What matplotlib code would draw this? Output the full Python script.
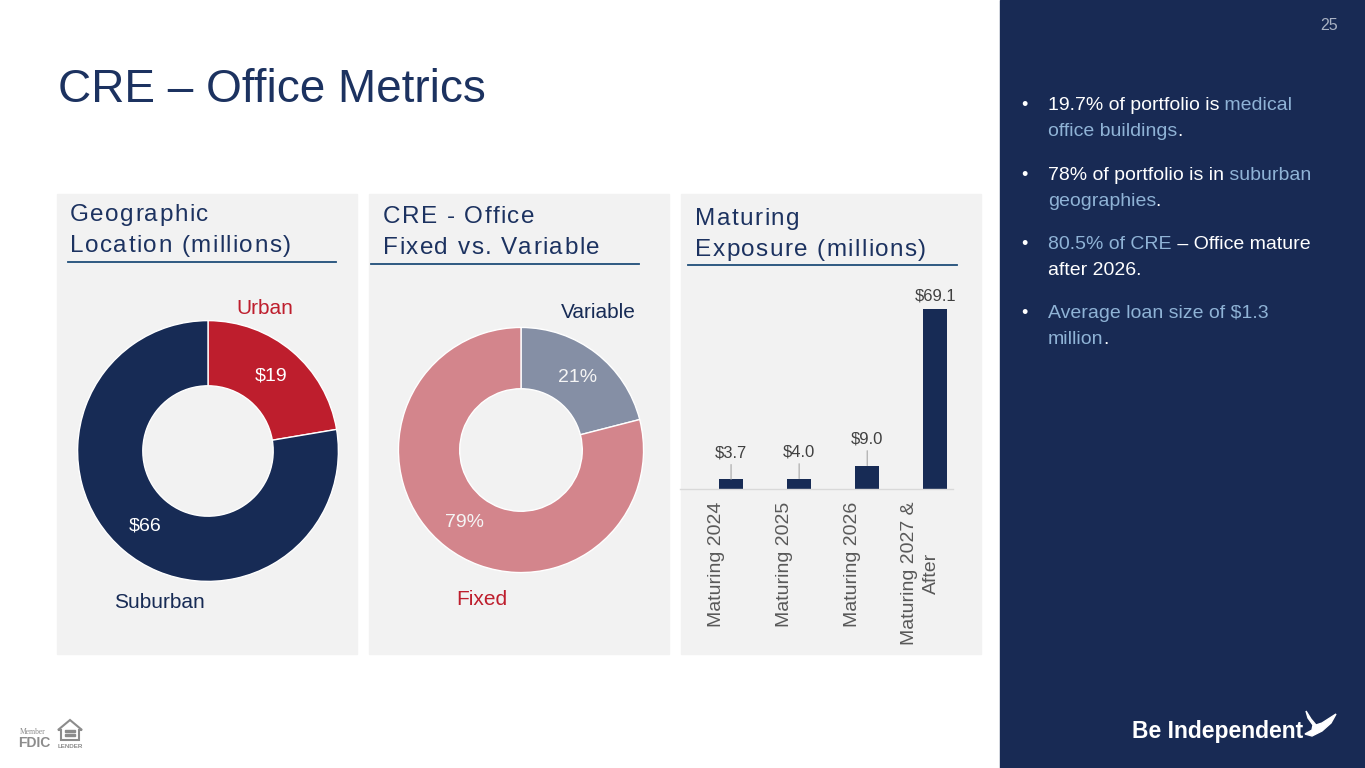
import matplotlib
matplotlib.use("Agg")
import numpy as np
import matplotlib.pyplot as plt
from matplotlib.patches import Rectangle, Polygon
from matplotlib.transforms import ScaledTranslation
from matplotlib.font_manager import FontProperties, findfont, get_font

# ---------------------------
# Data
# ---------------------------
geo_labels = ["Urban", "Suburban"]
geo_values = [19, 66]

rate_labels = ["Variable", "Fixed"]
rate_values = [21, 79]

mat_labels = ["Maturing 2024", "Maturing 2025", "Maturing 2026", "Maturing 2027 &\nAfter"]
mat_values = [3.7, 4.0, 9.0, 69.1]

# ---------------------------
# Colours
# ---------------------------
NAVY = "#172B55"
TITLE = "#1C3260"
RED = "#BE1E2D"
PINK = "#D3858C"
SLATE = "#858FA5"
PANEL = "#F2F2F2"
SIDE = "#182A54"
WHITE = "#FFFFFF"
LBLUE = "#8FB3D6"
GRAY_TXT = "#595959"

bullets = [
    [[("19.7% of portfolio is", WHITE), (" medical", LBLUE)],
     [("office buildings", LBLUE), (".", WHITE)]],
    [[("78% of portfolio is in", WHITE), (" suburban", LBLUE)],
     [("geographies", LBLUE), (".", WHITE)]],
    [[("80.5% of CRE", LBLUE), (" \u2013 Office mature", WHITE)],
     [("after 2026.", WHITE)]],
    [[("Average loan size of $1.3", LBLUE)],
     [("million", LBLUE), (".", WHITE)]],
]

plt.rcParams["font.family"] = ["Liberation Sans", "DejaVu Sans"]

W, H = 1365, 768
fig = plt.figure(figsize=(W / 100, H / 100), dpi=100)
fig.patch.set_facecolor("white")

# pixel-space background axes
bg = fig.add_axes([0, 0, 1, 1])
bg.set_xlim(0, W)
bg.set_ylim(H, 0)
bg.axis("off")

FONT_PATH = findfont(FontProperties(family="Liberation Sans"))


def text_w(s, size):
    f = get_font(FONT_PATH)
    f.set_size(size, 100)
    return sum(f.load_char(ord(c)).linearHoriAdvance for c in s) / 65536


def spaced(x, y, s, size, color, spacing):
    for ch in s:
        bg.text(x, y, ch, fontsize=size, color=color, va="baseline", ha="left")
        x += text_w(ch, size) + spacing


def fig_rect(x, y, w, h):
    return [x / W, 1 - (y + h) / H, w / W, h / H]


# ---------------------------
# Panels + headers
# ---------------------------
for px in [57, 369, 681]:
    bg.add_patch(Rectangle((px, 194), 300, 460, color=PANEL, zorder=0))
bg.add_patch(Rectangle((1000, 0), 365, 768, color=SIDE, zorder=0))

bg.text(58, 102, "CRE \u2013 Office Metrics", fontsize=33, color=TITLE, va="baseline")

headers = [
    (70, 221, "Geographic", "Location (millions)", 68, 336, 262),
    (383, 223, "CRE - Office", "Fixed vs. Variable", 371, 639, 264),
    (695, 225, "Maturing", "Exposure (millions)", 688, 957, 265),
]
for hx, hy, l1, l2, x0, x1, ly in headers:
    spaced(hx, hy, l1, 17.5, TITLE, 1.4)
    spaced(hx, hy + 31, l2, 17.5, TITLE, 1.4)
    bg.plot([x0, x1], [ly, ly], color="#1F4E79", lw=1.3)

# ---------------------------
# Donut 1: geographic
# ---------------------------
ax1 = fig.add_axes(fig_rect(208 - 133, 451 - 133, 266, 266))
ax1.pie(geo_values, colors=[RED, NAVY], startangle=90, counterclock=False,
        radius=1, wedgeprops=dict(width=0.5, edgecolor="white", linewidth=1.0),
        autopct=lambda p: f"${p * sum(geo_values) / 100:.0f}", pctdistance=0.75,
        textprops=dict(color="white", fontsize=14))
ax1.set_xlim(-1.02, 1.02)
ax1.set_ylim(-1.02, 1.02)
ax1.axis("off")
ax1.text(0.436, 1.09, geo_labels[0], color=RED, fontsize=15, ha="center", va="center")
ax1.text(-0.37, -1.165, geo_labels[1], color=NAVY, fontsize=15, ha="center", va="center")

# ---------------------------
# Donut 2: fixed vs variable
# ---------------------------
ax2 = fig.add_axes(fig_rect(521 - 125, 450 - 125, 250, 250))
ax2.pie(rate_values, colors=[SLATE, PINK], startangle=90, counterclock=False,
        radius=1, wedgeprops=dict(width=0.5, edgecolor="white", linewidth=1.0),
        autopct="%.0f%%", pctdistance=0.75,
        textprops=dict(color="#F5F5F5", fontsize=14))
ax2.set_xlim(-1.02, 1.02)
ax2.set_ylim(-1.02, 1.02)
ax2.axis("off")
ax2.text(0.632, 1.12, rate_labels[0], color=NAVY, fontsize=15, ha="center", va="center")
ax2.text(-0.32, -1.216, rate_labels[1], color=RED, fontsize=15, ha="center", va="center")

# ---------------------------
# Bars: maturing exposure
# ---------------------------
ax3 = fig.add_axes(fig_rect(680, 489 - 208.4, 273, 208.4))
ax3.patch.set_alpha(0)
x = np.arange(len(mat_values))
ax3.bar(x, mat_values, width=0.35, color=NAVY)
ax3.set_xlim(-0.75, 3.26)
ax3.set_ylim(0, 80)
for s in ["top", "left", "right"]:
    ax3.spines[s].set_visible(False)
ax3.spines["bottom"].set_color("#D9D9D9")
ax3.spines["bottom"].set_linewidth(1)
ax3.set_yticks([])
ax3.set_xticks(x)
ax3.set_xticklabels(mat_labels, rotation=90, fontsize=14, color=GRAY_TXT,
                    ha="center", va="top", linespacing=1.4)
ax3.tick_params(axis="x", length=0, pad=9)
shift = ScaledTranslation(-0.15, 0, fig.dpi_scale_trans)
for lab in ax3.get_xticklabels():
    lab.set_transform(lab.get_transform() + shift)

for xi, v in zip(x, mat_values):
    if v < 20:
        ax3.annotate(f"${v:.1f}", xy=(xi, v), xytext=(0, 22), textcoords="offset pixels",
                     ha="center", va="baseline", fontsize=12, color="#404040",
                     arrowprops=dict(arrowstyle="-", color="#A6A6A6", lw=0.8,
                                     shrinkA=1, shrinkB=0))
    else:
        ax3.annotate(f"${v:.1f}", xy=(xi, v), xytext=(0, 8), textcoords="offset pixels",
                     ha="center", va="baseline", fontsize=12, color="#404040")

# ---------------------------
# Side panel text
# ---------------------------
bg.text(1338, 30, "25", fontsize=11.5, color="#A9B2C3", ha="right", va="baseline")

para_y = [110, 180, 249, 318]
for py, para in zip(para_y, bullets):
    bg.text(1021, py, "\u2022", fontsize=13, color=WHITE, va="baseline")
    for li, line in enumerate(para):
        cx = 1048
        for seg, col in line:
            bg.text(cx, py + li * 26, seg, fontsize=14, color=col, va="baseline", ha="left")
            cx += text_w(seg, 14)

# logo
bg.text(1303, 738, "Be Independent", fontsize=16.5, fontweight="bold", color=WHITE,
        ha="right", va="baseline")
bird = [(1306, 711), (1311, 719), (1316, 725), (1322, 723), (1336, 714), (1331, 723),
        (1322, 731), (1312, 736), (1305, 734), (1312, 730), (1313, 725), (1308, 718)]
bg.add_patch(Polygon(bird, closed=True, color=WHITE, zorder=3))

# FDIC / equal housing
bg.text(33, 734, "Member", fontsize=5.5, color="#8C8C8C", ha="center", va="baseline",
        family="Liberation Serif")
bg.text(34, 747, "FDIC", fontsize=10, fontweight="bold", color="#8C8C8C", ha="center",
        va="baseline")
house = [(58, 730), (70, 720), (82, 730), (79, 730), (79, 740), (61, 740), (61, 730)]
bg.add_patch(Polygon(house, closed=True, fill=False, edgecolor="#8C8C8C", lw=1.5))
bg.add_patch(Rectangle((65, 730), 10, 2, color="#8C8C8C"))
bg.add_patch(Rectangle((65, 734), 10, 2, color="#8C8C8C"))
bg.text(70, 748, "LENDER", fontsize=4.5, fontweight="bold", color="#8C8C8C",
        ha="center", va="baseline")

fig.savefig("out.png", dpi=100)
